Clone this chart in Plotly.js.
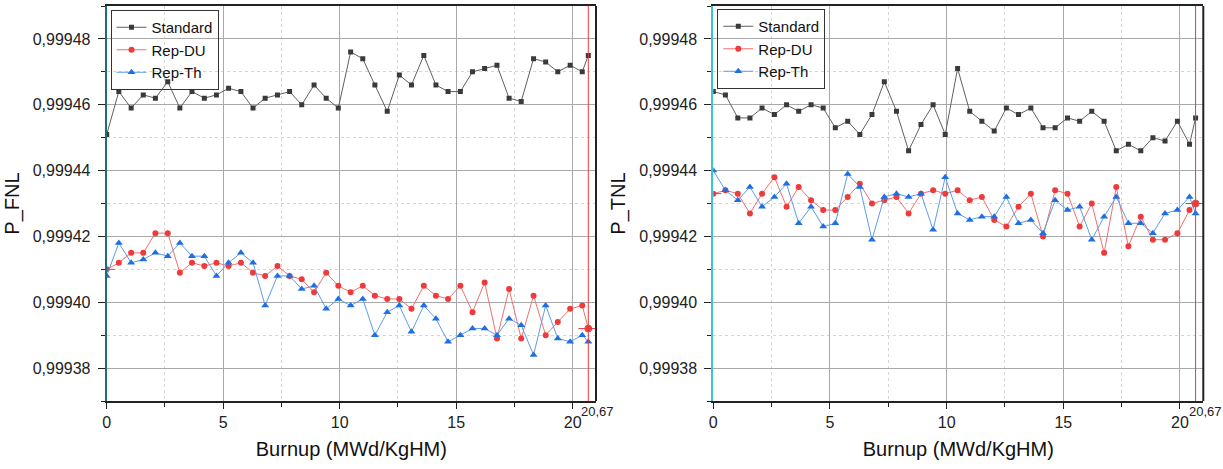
<!DOCTYPE html>
<html>
<head>
<meta charset="utf-8">
<script src="https://cdn.plot.ly/plotly-3.0.1.min.js"></script>
<style>html,body{margin:0;padding:0;background:#fff}#chart{width:1223px;height:469px}</style>
</head>
<body>
<div id="chart"></div>
<script>
// Burnup steps (MWd/KgHM)
const burnup = [0, 0.52, 1.05, 1.57, 2.09, 2.62, 3.14, 3.66, 4.19, 4.71, 5.23, 5.76, 6.28, 6.80, 7.33, 7.85, 8.37, 8.90, 9.42, 9.94,
  10.47, 10.99, 11.51, 12.04, 12.56, 13.08, 13.61, 14.13, 14.65, 15.18, 15.70, 16.22, 16.75, 17.27, 17.79, 18.32, 18.84, 19.36, 19.89, 20.41, 20.67];

// P_FNL
const fnlStandard = [0.999451,0.999464,0.999459,0.999463,0.999462,0.999467,0.999459,0.999464,0.999462,0.999463,
  0.999465,0.999464,0.999459,0.999462,0.999463,0.999464,0.999460,0.999466,0.999462,0.999459,
  0.999476,0.999474,0.999466,0.999458,0.999469,0.999466,0.999475,0.999466,0.999464,0.999464,
  0.999470,0.999471,0.999472,0.999462,0.999461,0.999474,0.999473,0.999470,0.999472,0.999470,0.999475];
const fnlRepDU = [0.999410,0.999412,0.999415,0.999415,0.999421,0.999421,0.999409,0.999412,0.999411,0.999412,
  0.999411,0.999412,0.999409,0.999408,0.999411,0.999408,0.999407,0.999403,0.999409,0.999405,
  0.999403,0.999405,0.999402,0.999401,0.999401,0.999398,0.999405,0.999402,0.999401,0.999405,
  0.999397,0.999406,0.999389,0.999404,0.999389,0.999402,0.999390,0.999394,0.999398,0.999399,0.999392];
const fnlRepTh = [0.999408,0.999418,0.999412,0.999413,0.999415,0.999414,0.999418,0.999414,0.999414,0.999408,
  0.999412,0.999415,0.999412,0.999399,0.999408,0.999408,0.999404,0.999405,0.999398,0.999401,
  0.999399,0.999401,0.999390,0.999397,0.999399,0.999391,0.999399,0.999395,0.999388,0.999390,
  0.999392,0.999392,0.999390,0.999395,0.999393,0.999384,0.999399,0.999389,0.999388,0.999390,0.999388];

// P_TNL
const tnlStandard = [0.999464,0.999463,0.999456,0.999456,0.999459,0.999457,0.999460,0.999458,0.999460,0.999459,
  0.999453,0.999455,0.999451,0.999457,0.999467,0.999458,0.999446,0.999454,0.999460,0.999451,
  0.999471,0.999458,0.999455,0.999452,0.999459,0.999457,0.999459,0.999453,0.999453,0.999456,
  0.999455,0.999458,0.999455,0.999446,0.999448,0.999446,0.999450,0.999449,0.999455,0.999448,0.999456];
const tnlRepDU = [0.999433,0.999434,0.999433,0.999427,0.999433,0.999438,0.999429,0.999435,0.999431,0.999428,
  0.999428,0.999432,0.999436,0.999430,0.999431,0.999432,0.999427,0.999433,0.999434,0.999433,
  0.999434,0.999431,0.999432,0.999425,0.999423,0.999429,0.999433,0.999420,0.999434,0.999433,
  0.999423,0.999430,0.999415,0.999435,0.999417,0.999426,0.999419,0.999419,0.999421,0.999428,0.999430];
const tnlRepTh = [0.999440,0.999434,0.999431,0.999435,0.999429,0.999432,0.999436,0.999424,0.999429,0.999423,
  0.999424,0.999439,0.999435,0.999419,0.999432,0.999433,0.999432,0.999433,0.999422,0.999438,
  0.999427,0.999425,0.999426,0.999426,0.999432,0.999424,0.999425,0.999421,0.999431,0.999428,
  0.999429,0.999419,0.999426,0.999432,0.999424,0.999424,0.999421,0.999427,0.999428,0.999432,0.999427];

const seriesNames = ['Standard', 'Rep-DU', 'Rep-Th'];
const xTickVals = [0, 5, 10, 15, 20];
const endLabel = '20,67';

const FONT = 'Liberation Sans, Arial, sans-serif';
const styles = [
  {line: {color: '#606060', width: 1}, marker: {symbol: 'square', size: 5, color: '#3a3a3a'}},
  {line: {color: '#f07070', width: 1}, marker: {symbol: 'circle', size: 6, color: '#ee3a3a'}},
  {line: {color: '#5c9ce8', width: 1}, marker: {symbol: 'triangle-up', size: 7, color: '#1f6fe0'}}
];

function mk(y, i, xa, ya, leg) {
  return {x: burnup, y: y, name: seriesNames[i], type: 'scatter', mode: 'lines+markers',
    xaxis: xa, yaxis: ya, legend: leg, line: styles[i].line, marker: styles[i].marker};
}
const traces = [
  mk(fnlStandard, 0, 'x', 'y', 'legend'), mk(fnlRepDU, 1, 'x', 'y', 'legend'), mk(fnlRepTh, 2, 'x', 'y', 'legend'),
  mk(tnlStandard, 0, 'x2', 'y2', 'legend2'), mk(tnlRepDU, 1, 'x2', 'y2', 'legend2'), mk(tnlRepTh, 2, 'x2', 'y2', 'legend2')
];

function xAxis(domain, anchor) {
  return {domain: domain, anchor: anchor, range: [0, 21.0], tickvals: xTickVals,
    showline: true, linecolor: '#222', linewidth: 2, mirror: true,
    ticks: 'outside', ticklen: 6, tickwidth: 1, tickcolor: '#222',
    showgrid: true, gridcolor: '#a9a9a9', gridwidth: 1, zeroline: false,
    tickfont: {family: FONT, size: 16, color: '#222'},
    minor: {dtick: 2.5, tick0: 0, ticks: 'outside', ticklen: 4, tickcolor: '#222', showgrid: true, gridcolor: '#d6d6d6', griddash: 'dot', gridwidth: 1},
    title: {text: 'Burnup (MWd/KgHM)', font: {family: FONT, size: 20, color: '#111'}, standoff: 12}};
}
function yAxis(domain, anchor, title, lc) {
  return {domain: domain, anchor: anchor, range: [0.99937, 0.99949], tick0: 0.99938, dtick: 0.00002, tickformat: '.5f',
    showline: true, linecolor: lc, linewidth: 2,
    ticks: 'outside', ticklen: 7, tickwidth: 1, tickcolor: '#222', ticklabelstandoff: 4,
    showgrid: true, gridcolor: '#a9a9a9', gridwidth: 1, zeroline: false,
    tickfont: {family: FONT, size: 16, color: '#222'},
    minor: {dtick: 0.00001, tick0: 0.99937, ticks: 'outside', ticklen: 4, tickcolor: '#222', showgrid: true, gridcolor: '#d6d6d6', griddash: 'dot', gridwidth: 1},
    title: {text: title, font: {family: FONT, size: 20, color: '#111'}, standoff: 8}};
}

const W = 1223, H = 469;
const yDom = [(H - 401) / H, (H - 6) / H];
const legendBase = {bgcolor: 'rgba(255,255,255,0)', bordercolor: '#333', borderwidth: 1,
  font: {family: FONT, size: 15, color: '#111'}, xanchor: 'left', yanchor: 'top', tracegroupgap: 0, itemwidth: 30};

const red = '#e63b3b';
const xEnd = burnup[burnup.length - 1];
function cursorShapes(xa, ya, series) {
  const yEnd = series[series.length - 1], y0 = series[0];
  return [
    {type: 'line', xref: xa, yref: ya + ' domain', x0: xEnd, x1: xEnd, y0: 0, y1: 1, line: {color: red, width: 1}},
    {type: 'line', xref: xa, yref: ya, xsizemode: 'pixel', xanchor: xEnd, x0: -10, x1: 10, y0: yEnd, y1: yEnd, line: {color: red, width: 1}},
    {type: 'circle', xref: xa, yref: ya, xsizemode: 'pixel', ysizemode: 'pixel', xanchor: xEnd, yanchor: yEnd, x0: -3.5, x1: 3.5, y0: -3.5, y1: 3.5, line: {color: red, width: 1}},
    {type: 'line', xref: xa, yref: ya, xsizemode: 'pixel', xanchor: burnup[0], x0: -10, x1: 8, y0: y0, y1: y0, line: {color: red, width: 1}},
    {type: 'line', xref: xa + ' domain', yref: ya + ' domain', x0: 1, x1: 1, y0: 0, y1: 1, line: {color: '#222', width: 2}}
  ];
}

const layout = {
  width: W, height: H, margin: {l: 0, r: 0, t: 0, b: 0},
  paper_bgcolor: '#fff', plot_bgcolor: '#fff', separators: ',.',
  font: {family: FONT, color: '#222'},
  xaxis: xAxis([106.7 / W, 596 / W], 'y'),
  yaxis: yAxis(yDom, 'x', 'P_FNL', '#1d6e70'),
  xaxis2: xAxis([713.3 / W, 1203.3 / W], 'y2'),
  yaxis2: yAxis(yDom, 'x2', 'P_TNL', '#3cc4d4'),
  legend: Object.assign({}, legendBase, {x: 110.5 / W, y: (H - 10) / H}),
  legend2: Object.assign({}, legendBase, {x: 717.3 / W, y: (H - 9) / H}),
  shapes: cursorShapes('x', 'y', fnlRepDU).concat(cursorShapes('x2', 'y2', tnlRepDU)),
  annotations: [
    {xref: 'x', yref: 'y domain', x: xEnd, y: 0, xanchor: 'left', yanchor: 'top', xshift: -9, yshift: -1, text: endLabel, showarrow: false, font: {family: FONT, size: 13, color: '#222'}},
    {xref: 'x2', yref: 'y2 domain', x: xEnd, y: 0, xanchor: 'left', yanchor: 'top', xshift: -9, yshift: -1, text: endLabel, showarrow: false, font: {family: FONT, size: 13, color: '#222'}}
  ]
};

Plotly.newPlot('chart', traces, layout, {staticPlot: true, displayModeBar: false});
</script>
</body>
</html>
